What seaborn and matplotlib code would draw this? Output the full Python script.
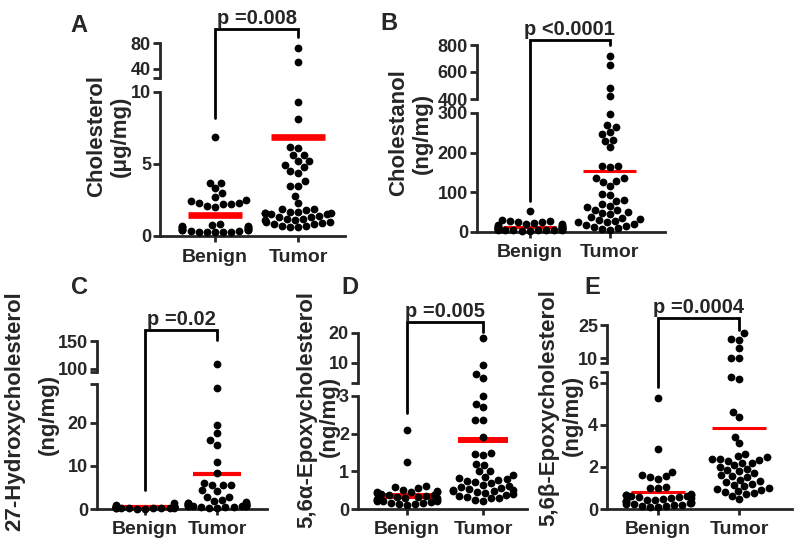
import warnings
warnings.filterwarnings("ignore")
import matplotlib
matplotlib.use("Agg")
import matplotlib.pyplot as plt
import seaborn as sns
import pandas as pd
from matplotlib.lines import Line2D

# ---------------- data ----------------
categories = ["Benign", "Tumor"]

A_benign = [6.9, 3.7, 3.7, 3.3, 3.0, 2.7, 2.5, 2.4, 2.3, 2.3, 2.2, 2.2, 2.1, 2.0,
            0.8, 0.75, 0.7, 0.7, 0.65, 0.6, 0.6, 0.55, 0.5, 0.5, 0.45, 0.45, 0.4,
            0.4, 0.35, 0.35, 0.3, 0.3, 0.3, 0.25, 0.25]
A_tumor = [72, 51, 9.3, 8.1, 6.2, 6.1, 5.6, 5.6, 5.2, 5.2, 4.9, 4.8, 4.5, 4.4, 3.8,
           3.5, 3.5, 2.8, 2.3, 1.9, 1.9, 1.8, 1.7, 1.7, 1.6, 1.6, 1.6, 1.5, 1.5, 1.4,
           1.3, 1.3, 1.2, 1.2, 1.1, 1.1, 1.0, 1.0, 0.9, 0.8, 0.8, 0.7, 0.7, 0.6, 0.6]
A_means = [1.45, 6.9]

B_benign = [53, 30, 28, 27, 25, 24, 22, 20, 19, 17, 16, 15, 14, 13, 12, 11, 10, 10,
            9, 9, 8, 8, 7, 7, 6, 6, 5, 5, 5, 4, 4, 3, 3]
B_tumor = [720, 650, 485, 420, 298, 270, 265, 252, 248, 233, 230, 214, 166, 166, 165,
           137, 135, 128, 127, 115, 97, 93, 80, 78, 70, 66, 62, 56, 55, 50, 48, 45,
           38, 36, 32, 30, 28, 26, 24, 20, 18, 15, 12, 10, 8, 6]
B_means = [13.5, 153]

C_benign = [1.5, 0.9, 0.7, 0.6, 0.6, 0.5, 0.5, 0.5, 0.45, 0.4, 0.4, 0.4, 0.35, 0.3,
            0.3, 0.3, 0.25, 0.2, 0.2, 0.2, 0.15, 0.1, 0.1]
C_tumor = [108, 28, 19.4, 17.6, 15.9, 14.9, 10.8, 8.4, 6.1, 5.6, 5.5, 5.5, 4.3, 4.2,
           2.9, 2.8, 2.0, 1.8, 1.6, 1.5, 1.4, 1.3, 1.2, 1.1, 1.0, 1.0, 0.9, 0.9, 0.8,
           0.8, 0.7, 0.6, 0.6, 0.5, 0.5, 0.4, 0.3, 0.2]
C_means = [0.53, 8.1]

D_benign = [2.1, 1.24, 0.6, 0.58, 0.55, 0.5, 0.48, 0.46, 0.45, 0.44, 0.42, 0.4, 0.38,
            0.36, 0.35, 0.33, 0.32, 0.3, 0.28, 0.27, 0.25, 0.24, 0.22, 0.2, 0.2, 0.18,
            0.16, 0.15, 0.14, 0.12, 0.1]
D_tumor = [18.2, 9.3, 6.3, 4.9, 3.0, 2.8, 2.7, 2.35, 2.35, 1.92, 1.5, 1.45, 1.43, 1.2,
           1.17, 1.02, 1.0, 0.9, 0.85, 0.82, 0.8, 0.78, 0.75, 0.72, 0.7, 0.65, 0.6,
           0.58, 0.55, 0.52, 0.5, 0.5, 0.48, 0.47, 0.45, 0.42, 0.4, 0.38, 0.35, 0.32,
           0.3, 0.28, 0.25, 0.22]
D_means = [0.35, 1.83]

E_benign = [5.3, 2.84, 1.78, 1.6, 1.55, 1.5, 1.45, 1.05, 1.0, 1.0, 0.7, 0.68, 0.66,
            0.65, 0.63, 0.6, 0.58, 0.55, 0.52, 0.5, 0.48, 0.45, 0.42, 0.4, 0.38, 0.35,
            0.32, 0.3, 0.28, 0.25, 0.22, 0.2, 0.18, 0.15, 0.12, 0.1, 0.08]
E_tumor = [21.2, 18.6, 18.2, 14.4, 10.1, 10.1, 6.3, 6.2, 4.6, 4.37, 3.44, 3.13, 2.6,
           2.5, 2.45, 2.4, 2.4, 2.35, 2.3, 2.2, 2.2, 2.1, 2.0, 1.9, 1.85, 1.8, 1.7,
           1.6, 1.55, 1.5, 1.4, 1.35, 1.3, 1.2, 1.15, 1.1, 1.0, 0.95, 0.9, 0.85, 0.8,
           0.75, 0.7, 0.6, 0.48]
E_means = [0.8, 3.84]

letters = ["A", "B", "C", "D", "E"]
p_texts = ["p =0.008", "p <0.0001", "p =0.02", "p =0.005", "p =0.0004"]
ylabel_line1 = ["Cholesterol", "Cholestanol", "27-Hydroxycholesterol",
                "5,6\u03b1-Epoxycholesterol", "5,6\u03b2-Epoxycholesterol"]
ylabel_line2 = ["(\u03bcg/mg)", "(ng/mg)", "(ng/mg)", "(ng/mg)", "(ng/mg)"]

A_low_ticks, A_up_ticks = [0, 5, 10], [40, 80]
B_low_ticks, B_up_ticks = [0, 100, 200, 300], [400, 600, 800]
C_low_ticks, C_up_ticks = [0, 10, 20], [100, 150]
D_low_ticks, D_up_ticks = [0, 1, 2, 3], [10, 20]
E_low_ticks, E_up_ticks = [0, 2, 4, 6], [10, 25]

# ---------------- style ----------------
sns.set_style("ticks")
plt.rcParams["font.family"] = ["Liberation Sans", "DejaVu Sans"]
plt.rcParams["font.weight"] = "bold"
plt.rcParams["axes.linewidth"] = 2.0

W, H = 800, 548
fig = plt.figure(figsize=(W / 100, H / 100), dpi=100)


def px_axes(L, R, T, B):
    return fig.add_axes([L / W, 1 - B / H, (R - L) / W, (B - T) / H])


panels = [
    dict(benign=A_benign, tumor=A_tumor, means=A_means, lt=A_low_ticks, ut=A_up_ticks,
         L=160, R=345, low=(236, 92), up=(78, 43), ylow=(0, 10), yup=(26, 80),
         xlim=(-0.663, 1.566), mlw=4.8, low_cap=False,
         br=(8.2, 101.6, 89.3), letter_xy=(79, 25), lab1=(97, 136), lab2=(120, 136)),
    dict(benign=B_benign, tumor=B_tumor, means=B_means, lt=B_low_ticks, ut=B_up_ticks,
         L=477, R=665, low=(232, 113), up=(99, 45), ylow=(0, 300), yup=(400, 800),
         xlim=(-0.66, 1.69), mlw=2.2, low_cap=False,
         br=(79, 837, 800), letter_xy=(389, 24), lab1=(399, 133), lab2=(422, 133)),
    dict(benign=C_benign, tumor=C_tumor, means=C_means, lt=C_low_ticks, ut=C_up_ticks,
         L=97, R=267, low=(509, 384), up=(371.7, 341), ylow=(0, 29), yup=(95, 150),
         xlim=(-0.667, 1.69), mlw=3.0, low_cap=True,
         br=(4.4, 169.7, 151.8), letter_xy=(80, 287), lab1=(15, 411), lab2=(48, 414)),
    dict(benign=D_benign, tumor=D_tumor, means=D_means, lt=D_low_ticks, ut=D_up_ticks,
         L=358, R=527, low=(509, 396), up=(383, 333), ylow=(0, 3), yup=(3.3, 20),
         xlim=(-0.645, 1.58), mlw=4.3, low_cap=False,
         br=(2.56, 23.7, 20.3), letter_xy=(350, 288), lab1=(307, 410), lab2=(329, 416)),
    dict(benign=E_benign, tumor=E_tumor, means=E_means, lt=E_low_ticks, ut=E_up_ticks,
         L=607, R=792, low=(509, 372.3), up=(363.3, 325), ylow=(0, 6.5), yup=(7.6, 25),
         xlim=(-0.63, 1.65), mlw=2.2, low_cap=True,
         br=(5.8, 28.2, 22.7), letter_xy=(592, 287), lab1=(549, 408), lab2=(572, 415)),
]

for i, p in enumerate(panels):
    ax_low = px_axes(p["L"], p["R"], p["low"][1], p["low"][0])
    ax_up = px_axes(p["L"], p["R"], p["up"][1], p["up"][0])
    df = pd.DataFrame({
        "group": [categories[0]] * len(p["benign"]) + [categories[1]] * len(p["tumor"]),
        "value": p["benign"] + p["tumor"],
    })
    parts = (
        (ax_low, p["ylow"], df[df["value"] <= p["ylow"][1]]),
        (ax_up, p["yup"], df[df["value"] >= p["yup"][0]]),
    )
    for ax, ylim, sub in parts:
        ax.set_xlim(p["xlim"])
        ax.set_ylim(ylim)
        sns.swarmplot(data=sub, x="group", y="value", order=categories, ax=ax,
                      color="black", size=5.6, linewidth=0, zorder=3, clip_on=False)
        ax.set_xlim(p["xlim"])
        ax.set_ylim(ylim)
        ax.set_xlabel("")
        ax.set_ylabel("")
        ax.spines["top"].set_visible(False)
        ax.spines["right"].set_visible(False)
        ax.tick_params(axis="y", length=5, width=2, labelsize=13, pad=1.5,
                       which="both")
    ax_low.hlines(p["means"], [k - 0.33 for k in range(2)], [k + 0.33 for k in range(2)],
                  colors="#ff0000", linewidth=p["mlw"], zorder=2)
    ax_low.set_yticks(p["lt"])
    ax_low.set_yticklabels([str(v) for v in p["lt"]], fontsize=13, fontweight="bold")
    if p["low_cap"]:
        ax_low.set_yticks([p["ylow"][1]], minor=True)
    ax_up.set_yticks(p["ut"])
    ax_up.set_yticklabels([str(v) for v in p["ut"]], fontsize=13, fontweight="bold")
    ax_up.set_yticks([p["yup"][0]], minor=True)
    ax_up.tick_params(axis="y", which="minor", length=5, width=2)
    ax_low.tick_params(axis="y", which="minor", length=5, width=2)
    ax_up.spines["bottom"].set_visible(False)
    ax_up.set_xticks([])
    ax_low.set_xticks([0, 1])
    ax_low.set_xticklabels(categories, fontsize=14, fontweight="bold")
    ax_low.tick_params(axis="x", length=4, width=2, pad=5)

    # bracket with p value
    lb, top, rb = p["br"]
    d0 = ax_low.transData.transform((0, lb))
    d1 = ax_up.transData.transform((0, top))
    d2 = ax_up.transData.transform((1, top))
    d3 = ax_up.transData.transform((1, rb))
    inv = fig.transFigure.inverted()
    pts = inv.transform([d0, d1, d2, d3])
    fig.add_artist(Line2D(pts[:, 0], pts[:, 1], transform=fig.transFigure,
                          color="black", linewidth=2.0, solid_joinstyle="miter"))
    ax_up.annotate(p_texts[i], xy=(0.5, top), xytext=(0, 1.0),
                   textcoords="offset points", ha="center", va="bottom",
                   fontsize=14.5, fontweight="bold", annotation_clip=False)

    # panel letter and y labels
    fig.text(p["letter_xy"][0] / W, 1 - p["letter_xy"][1] / H, letters[i],
             ha="center", va="center", fontsize=17, fontweight="bold")
    fig.text(p["lab1"][0] / W, 1 - p["lab1"][1] / H, ylabel_line1[i], rotation=90,
             ha="center", va="center", fontsize=16, fontweight="bold")
    fig.text(p["lab2"][0] / W, 1 - p["lab2"][1] / H, ylabel_line2[i], rotation=90,
             ha="center", va="center", fontsize=16, fontweight="bold")

fig.savefig("out.png", dpi=100)
